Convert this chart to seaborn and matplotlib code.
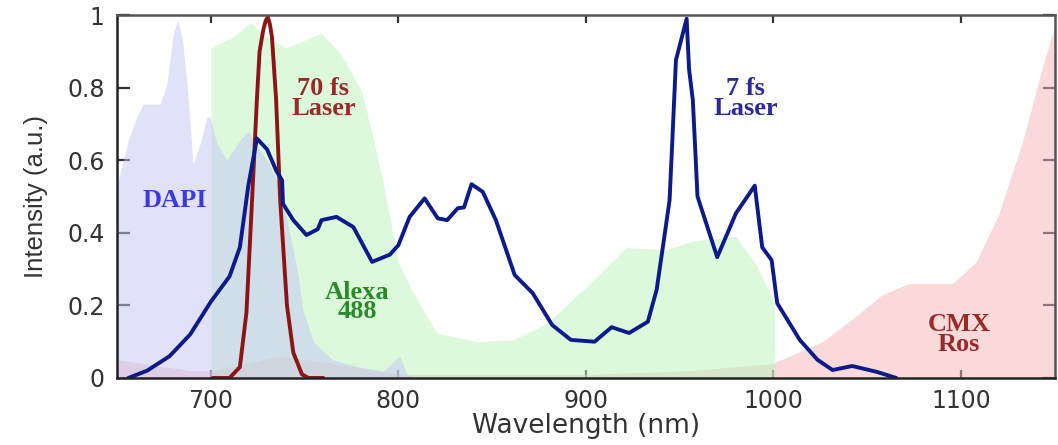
import numpy as np
import pandas as pd
import matplotlib
matplotlib.use("Agg")
import matplotlib.pyplot as plt
import seaborn as sns

# ---- data ----
# 7 fs laser spectrum
fs7_wl = [656, 666, 678, 689, 700, 710, 715.5, 720, 724.6, 730, 735, 738, 738.5, 744,
          751, 757, 759, 767, 776, 786, 795.5, 800, 806, 814, 821, 826, 831.7, 835,
          839, 845, 852, 862, 871.6, 882, 892, 904.6, 913.7, 923, 933, 937.7, 941,
          944.6, 946, 948, 953.7, 955, 957, 959.5, 970, 980, 990, 994, 999, 1002,
          1014, 1023.5, 1031.5, 1042, 1055, 1065.5]
fs7_int = [0.0, 0.02, 0.06, 0.12, 0.21, 0.28, 0.36, 0.53, 0.66, 0.63, 0.57, 0.545, 0.48,
           0.435, 0.394, 0.41, 0.435, 0.444, 0.416, 0.32, 0.34, 0.366, 0.444, 0.495,
           0.44, 0.435, 0.468, 0.47, 0.534, 0.513, 0.435, 0.284, 0.234, 0.146, 0.105,
           0.1, 0.14, 0.124, 0.155, 0.243, 0.36, 0.49, 0.647, 0.876, 0.99, 0.85, 0.766,
           0.5, 0.333, 0.454, 0.53, 0.36, 0.325, 0.206, 0.105, 0.05, 0.022, 0.033,
           0.017, 0.0]

# 70 fs laser spectrum
fs70_wl = [701, 710, 715.5, 719, 722, 724.6, 726, 728, 729.3, 730.4, 731.5, 732.6,
           734.8, 737, 740.6, 744, 748.6, 752, 760]
fs70_int = [0.0, 0.0, 0.03, 0.18, 0.49, 0.77, 0.9, 0.96, 0.985, 0.995, 0.975, 0.94,
            0.77, 0.49, 0.2, 0.07, 0.01, 0.0, 0.0]

# DAPI emission
dapi_wl = [650, 656, 660.6, 664, 673, 676.6, 680, 682.5, 685, 688, 690.5, 694, 698,
           699.5, 703, 708.6, 715.5, 720, 724.6, 730, 737, 742, 746, 749, 754.6, 765,
           779.5, 792, 800.8, 804.5, 810]
dapi_int = [0.53, 0.655, 0.72, 0.755, 0.755, 0.81, 0.95, 0.985, 0.93, 0.77, 0.59, 0.64,
            0.72, 0.72, 0.65, 0.6, 0.655, 0.68, 0.64, 0.6, 0.53, 0.4, 0.3, 0.19, 0.1,
            0.05, 0.03, 0.02, 0.06, 0.01, 0.0]

# Alexa 488 emission
alexa_wl = [700, 700.1, 712, 721, 730, 740, 759, 769, 780.5, 786, 792, 800, 810, 820.5,
            841.8, 861, 879, 900, 921.7, 943, 955, 960.6, 980, 991, 999.5, 1000.6, 1000.7]
alexa_int = [0.0, 0.91, 0.94, 0.98, 0.94, 0.91, 0.95, 0.895, 0.79, 0.675, 0.537, 0.317,
             0.215, 0.124, 0.1, 0.105, 0.15, 0.25, 0.36, 0.353, 0.375, 0.38, 0.39, 0.31,
             0.22, 0.2, 0.0]

# CMX Ros emission
cmx_wl = [650, 690, 700, 737, 765, 800, 900, 955, 999.5, 1026, 1044, 1058, 1072.5,
          1095.5, 1108, 1120, 1132.7, 1143, 1150]
cmx_int = [0.05, 0.02, 0.02, 0.06, 0.04, 0.01, 0.01, 0.02, 0.04, 0.1, 0.17, 0.23, 0.26,
           0.26, 0.32, 0.45, 0.65, 0.85, 0.97]

sns.set_style("ticks")
plt.rcParams["font.family"] = ["DejaVu Sans"]

fig = plt.figure(figsize=(10.58, 4.45), dpi=100)
ax = fig.add_axes([0.1106, 0.1506, 0.8864, 0.8154])

# shaded dye spectra
ax.fill_between(cmx_wl, cmx_int, color="#f5b4b4", alpha=0.5, lw=0)
ax.fill_between(alexa_wl, alexa_int, color="#baf5ba", alpha=0.5, lw=0)
ax.fill_between(dapi_wl, dapi_int, color="#c4c4f5", alpha=0.5, lw=0)

# laser spectra
lasers = pd.DataFrame({"wl": fs70_wl, "I": fs70_int})
sns.lineplot(data=lasers, x="wl", y="I", ax=ax, color="#8b1515", lw=2.8, sort=False)
lasers = pd.DataFrame({"wl": fs7_wl, "I": fs7_int})
sns.lineplot(data=lasers, x="wl", y="I", ax=ax, color="#0c1a8a", lw=2.8, sort=False)

serif = ["Liberation Serif", "DejaVu Serif"]
lab = dict(fontsize=19, family=serif, fontweight="bold", ha="center", va="center",
           linespacing=0.8)
ax.text(681, 0.49, "DAPI", color="#3a3ae0", **lab)
ax.text(760, 0.77, "70 fs\nLaser", color="#9a2a2a", **lab)
ax.text(778, 0.21, "Alexa\n488", color="#2a8a2a", **lab)
ax.text(985, 0.77, "7 fs\nLaser", color="#2a2a9a", **lab)
ax.text(1099, 0.12, "CMX\nRos", color="#9a2a2a", **lab)

ax.set_xlim(650, 1150)
ax.set_ylim(0, 1)
ax.set_xticks([700, 800, 900, 1000, 1100])
ax.set_yticks([0, 0.2, 0.4, 0.6, 0.8, 1])
ax.set_yticklabels(["0", "0.2", "0.4", "0.6", "0.8", "1"])
ax.tick_params(direction="in", width=1.6, labelsize=17, top=True, right=True,
               colors="#333333")
ax.tick_params(axis="y", length=9, pad=9)
ax.tick_params(axis="x", length=6, pad=8)
ax.set_xlabel("Wavelength (nm)", fontsize=19, color="#333333", labelpad=0)
ax.set_ylabel("Intensity (a.u.)", fontsize=18.5, color="#333333", labelpad=14,
              family=["Liberation Sans", "DejaVu Sans"])
for name, s in ax.spines.items():
    s.set_linewidth(1.8)
    s.set_color("#222222" if name in ("left", "bottom") else "#555555")

fig.savefig("out.png", dpi=100)
